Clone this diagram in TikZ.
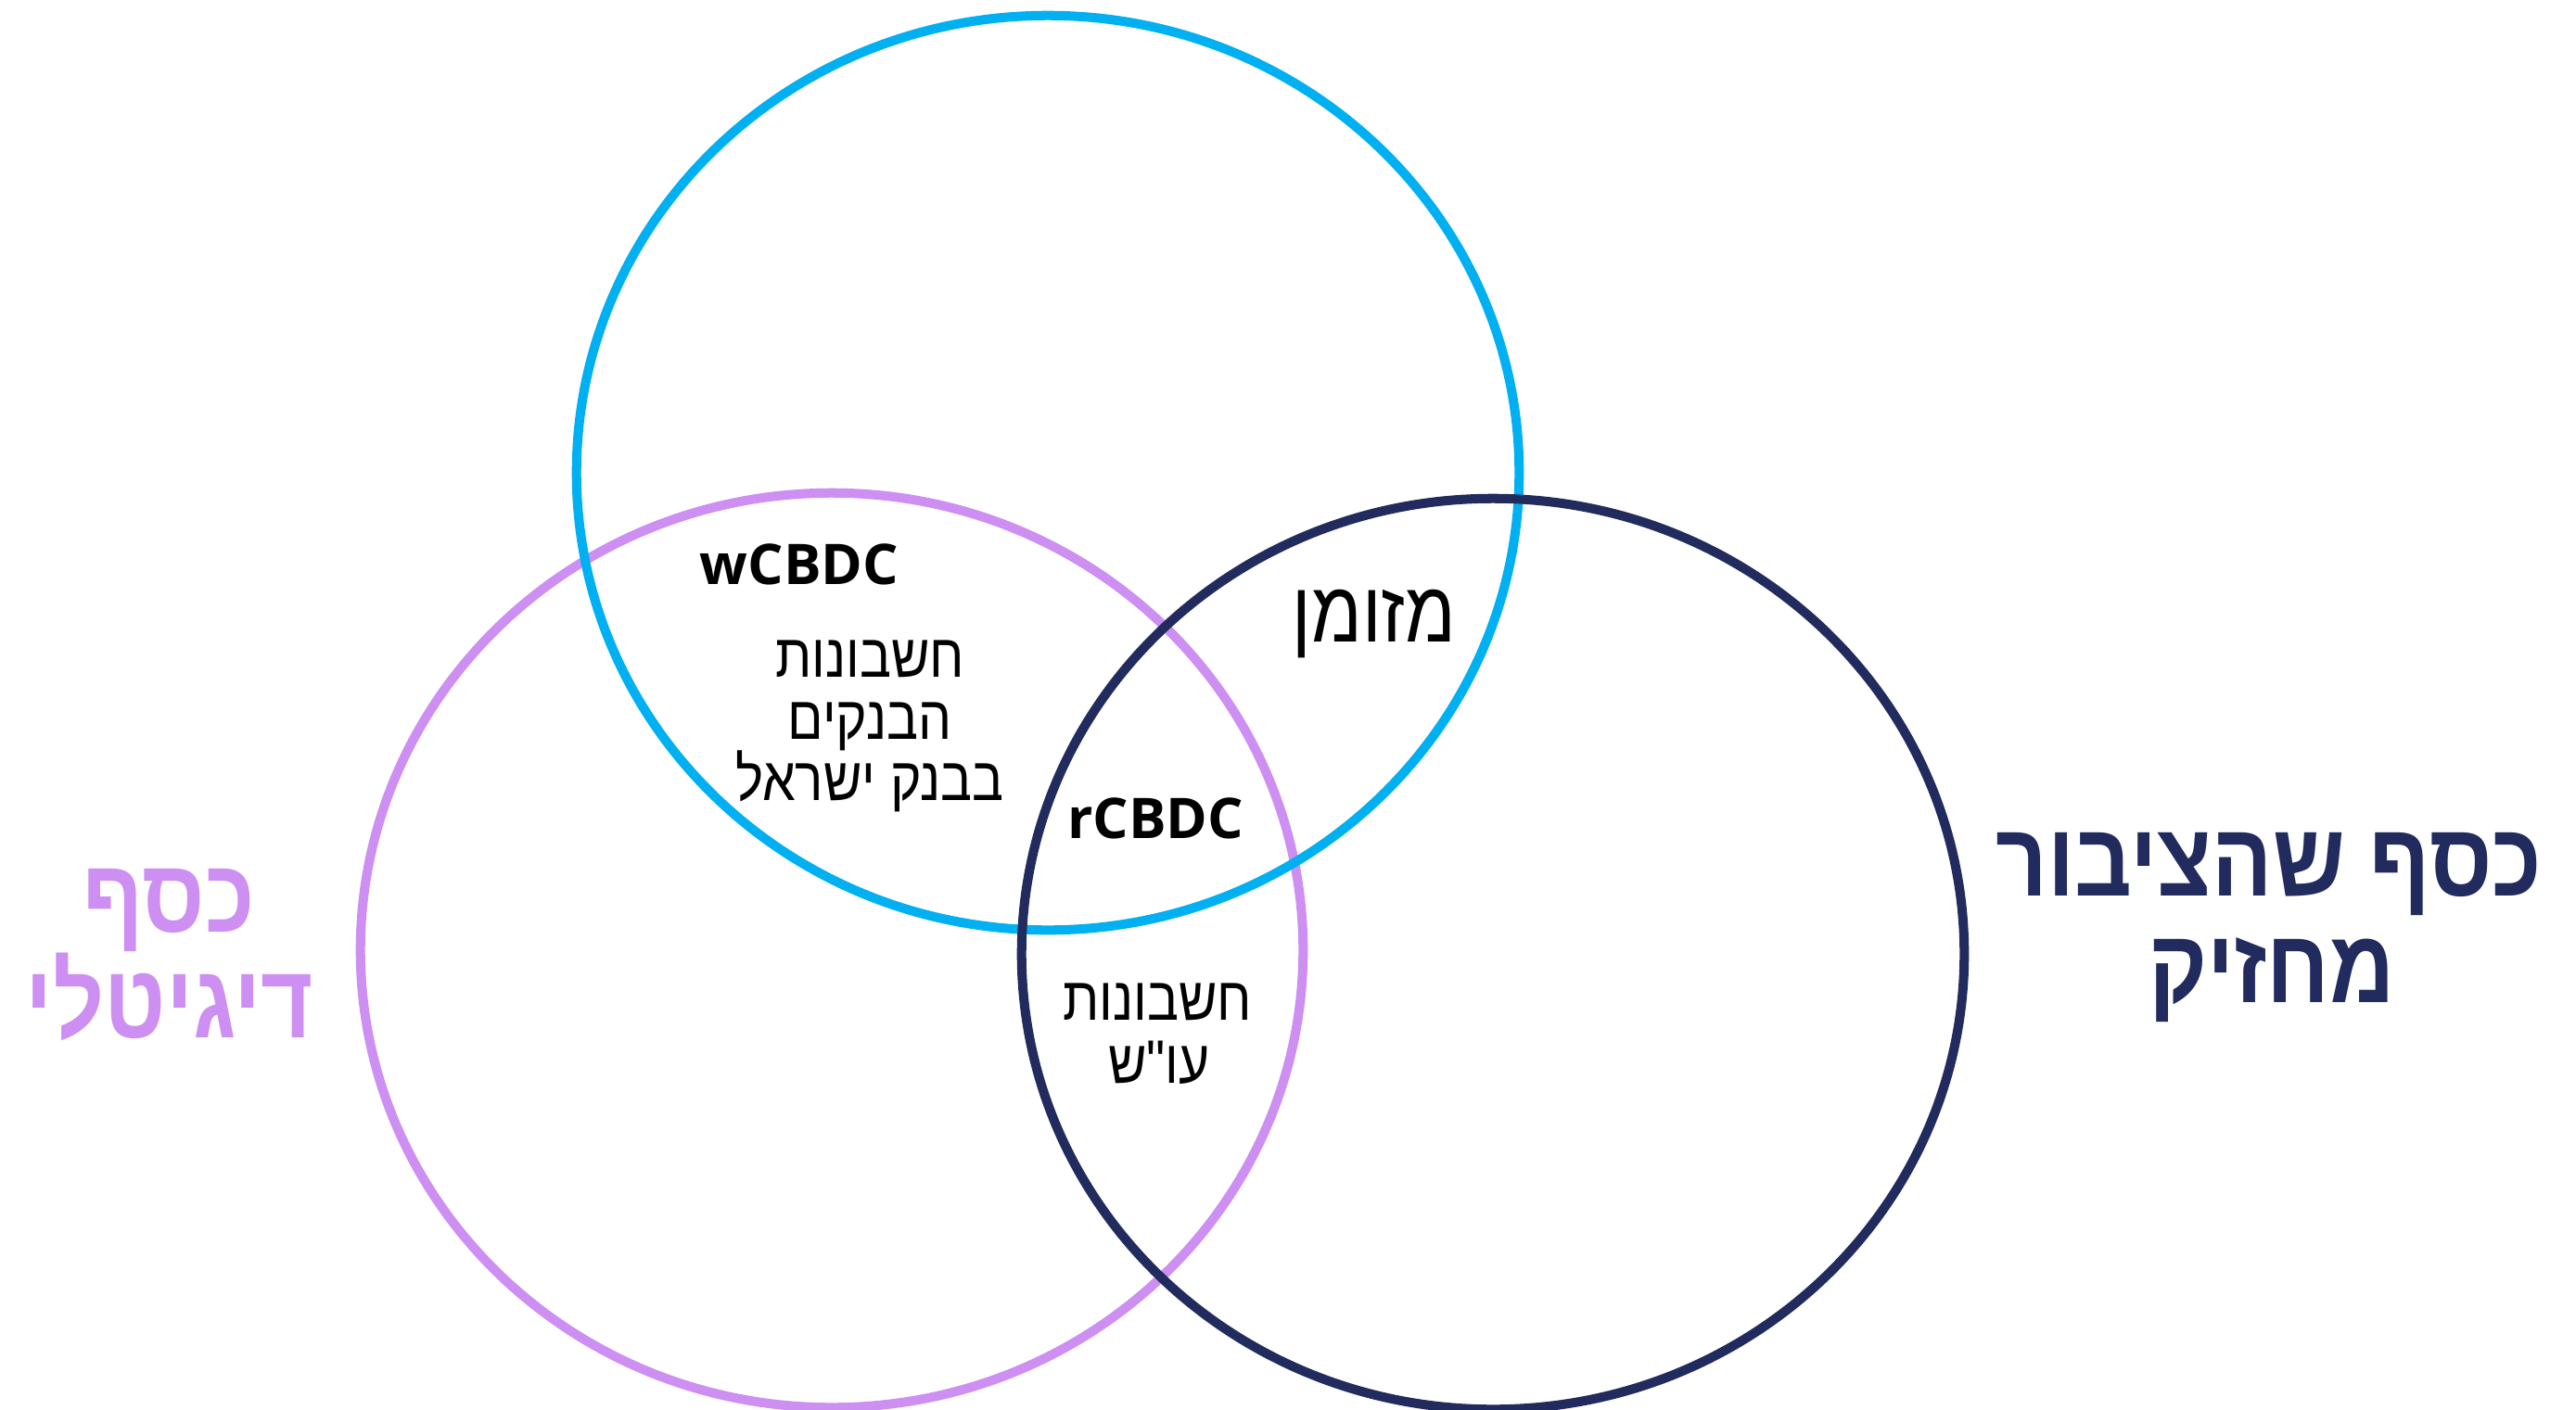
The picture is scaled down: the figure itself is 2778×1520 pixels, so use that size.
\documentclass[tikz,border=0pt]{standalone}
\usepackage{fontspec}
\setmainfont{Open Sans}
\newfontfamily\hebfont[Script=Hebrew, FakeStretch=0.86]{Liberation Sans}
\TeXXeTstate=1
\definecolor{cbblue}{RGB}{0,176,240}
\definecolor{cbpurple}{RGB}{205,143,242}
\definecolor{cbnavy}{RGB}{33,43,94}
\newcommand{\rtl}[1]{\beginR #1\endR}
\begin{document}
\begin{tikzpicture}[x=0.01cm,y=-0.01cm,
  ring/.style={line width=2.85pt},
  code/.style={font=\fontsize{17.2}{20}\selectfont\bfseries, anchor=base, inner sep=0pt},
  note/.style={font=\hebfont\fontsize{18.8}{19}\selectfont, anchor=base, inner sep=0pt},
  cash/.style={font=\hebfont\fontsize{26.3}{28}\selectfont, anchor=base, inner sep=0pt},
  title/.style={font=\hebfont\fontsize{32}{33}\selectfont\bfseries, anchor=base, inner sep=0pt}]
\useasboundingbox (0,0) rectangle (2778,1520);
\fill[white] (0,0) rectangle (2778,1520);

% the three sets
\draw[ring, cbpurple] (897,1025) ellipse [x radius=5.08cm, y radius=4.93cm];
\draw[ring, cbblue]   (1130,510) ellipse [x radius=5.08cm, y radius=4.93cm];
\draw[ring, cbnavy]   (1610,1029) ellipse [x radius=5.08cm, y radius=4.91cm];

% set titles
\node[title, text=cbpurple] (dig1) at (182,1005) {\rtl{כסף}};
\node[title, text=cbpurple] (dig2) at (183,1119) {\rtl{דיגיטלי}};
\node[title, text=cbnavy] (pub1) at (2447,966) {\rtl{כסף שהציבור}};
\node[title, text=cbnavy] (pub2) at (2450,1081) {\rtl{מחזיק}};

% region labels
\node[code] (wcbdc) at (862,630) {wCBDC};
\node[code] (rcbdc) at (1246,904) {rCBDC};
\node[cash] (cash) at (1482,692) {\rtl{מזומן}};
\node[note] (bank1) at (938,730) {\rtl{חשבונות}};
\node[note] (bank2) at (938,797) {\rtl{הבנקים}};
\node[note] (bank3) at (938,863) {\rtl{בבנק ישראל}};
\node[note] (cur1) at (1248,1100) {\rtl{חשבונות}};
\node[note] (cur2) at (1250,1168) {\rtl{עו"ש}};
\end{tikzpicture}
\end{document}
